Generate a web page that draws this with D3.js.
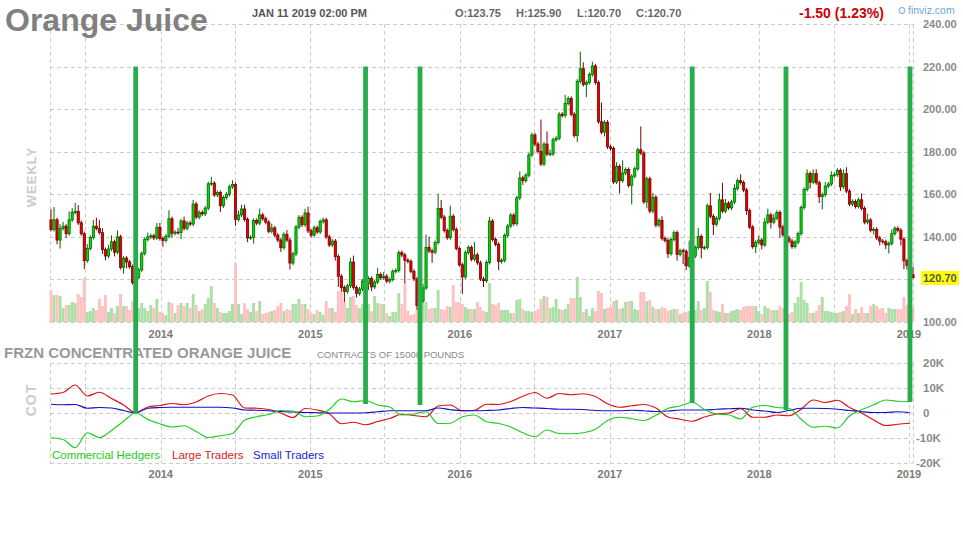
<!DOCTYPE html>
<html>
<head>
<meta charset="utf-8">
<script src="https://cdn.jsdelivr.net/npm/d3@7"></script>
<style>
body { margin: 0; background: #fff; }
svg { display: block; font-family: "Liberation Sans", Arial, sans-serif; }
</style>
</head>
<body>
<div id="chart"></div>
<script>
// weekly closes, Mar 2013 .. Jan 11 2019 (open = previous close)
var firstOpen = 148;
var closes = [
 143.5,148,138.5,144,145,141.5,148,151.5,152,146.6,
 141.5,128.8,134.6,139.7,145,144,142,134,131,134.3,
 137.7,132.8,140,125.7,130,128.2,126,118.5,121,124.5,
 132.2,138.8,140,140.5,139.5,144.5,139.2,138.3,140.3,148.5,
 141.7,142.2,142,147.5,144,146.5,146,155.4,149.3,151.5,
 150.8,153.5,164.9,165.2,159.7,160.8,154.6,158.5,
 160,163.5,164.6,148.2,150.3,153.1,148.2,139.5,139.8,147.7,
 146.5,150.3,148.5,146.9,142.6,144.2,140.8,138.5,134.9,141.2,
 138.5,127.7,132,144.6,149.2,145.7,151.2,142.8,140.8,144.3,
 142.3,147.2,148,140,136.2,138,130.8,121.5,116.2,114.3,
 117,128.2,116.2,113.4,115.5,119.2,118,120.5,116.5,118.8,
 122.3,120.8,121.5,119.2,120,123.8,
 124.2,132.6,131.5,129,128.5,123.8,120.2,107.7,110,116,
 135.1,133.4,132.8,137.3,153.3,149.3,143,139.6,149.7,143.5,
 134.6,126.9,121.2,132.6,135,129.5,131.5,127.8,120.2,119.4,
 128,147.4,138.8,136.5,128.4,129,140.7,145.1,150.2,146.2,
 158.3,167.7,166.4,169,178.5,187.9,183.6,180.1,174.2,183.6,
 178.9,179,185.6,186.3,197.6,197,202.7,
 205,197.6,187.6,213.1,219,211.6,212.5,216.3,220.3,212.5,
 194.1,189.2,193.8,182.3,181.5,165.8,173.1,166.4,170,171.6,
 164.2,168.5,172,180.9,179.4,156.4,167.3,152.1,158.6,145.5,
 147.7,139.3,138.3,132.1,138.8,142,131.8,133.5,133.2,126.4,
 130.3,131,135,140.2,134.9,135,154.6,149.7,145.9,148.7,
 157.4,152.1,155.8,153.6,156.4,162.7,166.4,
 165.5,162,152.3,144.6,135.4,137.4,138.5,136.2,146.9,150.3,
 146.9,148.8,151.5,144.6,141,139.5,138,135.4,137.5,141.5,
 153.8,162.3,169.7,165.7,169.7,165.4,158.9,159.8,163.8,164.8,
 168.8,169.2,171.2,163.5,169.7,161.5,155.4,156.6,154.3,157.4,
 153.4,146.9,147.9,143.1,143.5,139.5,138,137.7,136.2,136.9,
 141.5,144,143.1,138.9,128.8,126.6,122.2,120.7
];
// wick length above / below the body
var hiW = [
 5,6,1,2,2,1,4,2,4,3, 1,1,2,1,3,4,4,2,1,2, 3,1,3,1,1,1,1,1,1,1, 1,1,2,1,1,2,2,1,1,4, 1,1,2,1,2,1,1,2,1,1, 1,1,1,3,1,1,1,1,
 1,1,2,1,2,2,2,1,1,1, 1,3,1,1,1,2,1,1,1,1, 2,1,1,1,1,1,2,3,1,1, 1,1,1,1,1,1,1,1,1,1, 1,2,3,1,1,1,1,1,1,1, 3,1,2,1,1,1,
 1,1,1,1,1,1,1,1,1,2, 6,5,1,1,7,4,1,1,5,1, 1,1,1,1,1,1,6,1,1,1, 1,2,1,1,1,1,1,1,1,1, 1,3,1,1,1,1,1,1,15,1, 6,2,1,1,1,1,4,
 1,1,1,1,8,3,1,1,2,1, 1,9,1,1,1,1,2,1,6,1, 1,1,1,1,11,1,1,1,2,1, 1,2,1,1,1,1,1,1,1,1, 8,1,1,4,1,1,1,6,1,1, 3,8,2,1,1,2,1,
 3,1,1,1,1,1,2,1,2,3, 1,2,1,1,1,1,1,1,1,1, 1,1,2,1,2,2,1,1,2,1, 2,1,1,1,2,3,1,1,1,1, 3,1,3,1,1,1,1,1,1,1, 2,1,1,1,1,1,1,3.7
];
var loW = [
 1,1,2,4,1,2,1,1,1,1, 1,4,1,1,1,1,1,2,2,1, 1,2,1,1,3,3,1,1,5,1, 1,1,1,1,1,1,1,3,1,1, 2,1,1,3,1,1,1,1,1,1, 1,1,1,1,1,1,3,1,
 1,1,1,3,1,1,1,2,1,3, 1,1,1,1,1,1,1,1,2,1, 1,3,1,1,1,1,1,1,1,1, 1,1,1,1,1,1,2,5,2,5, 1,1,1,2,1,1,2,3,2,1, 1,1,1,1,1,1,
 1,1,1,11,1,1,1,2,3,1, 1,1,5,1,1,1,1,1,1,1, 1,1,8,1,1,1,1,1,1,3, 1,1,1,1,4,1,1,1,1,1, 1,1,2,1,1,1,1,1,1,1, 1,1,1,1,1,1,1,
 1,1,1,3,1,1,6,1,1,1, 1,1,2,1,1,1,1,6,1,1, 1,9,1,1,1,1,3,1,1,1, 1,1,1,2,1,1,3,1,6,2, 1,1,1,1,5,1,1,1,5,1, 1,1,1,1,1,1,1,
 1,1,2,1,1,3,1,2,1,1, 3,1,1,5,1,1,1,1,1,1, 1,1,1,3,1,1,3,6,1,1, 1,1,1,2,1,1,1,1,1,1, 1,1,1,1,2,1,2,1,2,4, 1,1,1,3,4,2,1,0
];
var volumes = [
 32,27,27,26,14,17,17,20,19,28, 25,44,10,11,14,12,23,16,27,10, 14,9,16,28,16,16,12,21,16,14, 19,14,11,17,14,23,10,9,7,20, 19,9,17,19,16,19,14,28,17,11, 13,18,24,36,19,14,10,9,
 9,11,18,59,18,8,19,13,10,19, 11,21,8,9,10,11,12,16,19,11, 13,12,18,18,23,18,18,13,9,8, 12,10,7,21,14,14,10,31,30,20, 14,25,26,17,14,18,15,18,11,26, 19,18,18,9,6,10,
 10,29,18,38,11,7,8,13,15,34, 20,13,14,14,32,13,12,16,15,37, 20,20,18,15,13,13,13,20,15,11, 10,39,18,17,19,12,12,12,9,9, 22,23,13,11,11,10,11,13,23,26, 25,14,15,23,13,12,13,
 18,24,24,45,25,10,13,6,14,11, 31,29,13,14,15,21,22,13,14,20, 21,21,13,12,30,30,21,22,15,13, 13,15,14,11,12,13,13,8,9,10, 11,12,12,21,12,14,41,30,12,11, 10,18,9,9,11,12,13,
 12,15,16,16,16,16,11,8,16,14, 12,12,12,16,14,10,8,10,19,25, 40,22,19,9,9,11,17,25,11,11, 10,9,9,10,11,16,28,8,13,9, 15,9,9,16,18,16,13,14,9,14, 13,13,13,13,25,17,16,14
];

// COT net positions (thousands of contracts), one value every 4 weeks
var cotStep = 4;
var cotCommercial = [-9.9,-10.6,-13.9,-7.9,-9.8,-7.0,-3.3,0.0,-2.6,-4.3, -5.6,-5.1,-7.4,-9.8,-9.1,-8.2,-2.9,-1.5,-0.6,1.0,
 0.8,-1.5,-1.2,1.4,5.6,4.5,5.0,3.2,2.4,-0.8, -0.4,0.5,-4.2,-4.1,-1.5,-0.8,-3.5,-4.2,-5.6,-7.9,
 -9.5,-6.8,-8.2,-8.3,-7.9,-6.5,-3.0,-1.7,-2.3,-3.0, -0.9,1.9,2.8,4.3,1.5,-0.4,-0.7,-2.4,2.3,3.0,
 2.2,1.9,-2.5,-5.7,-5.3,-6.0,-1.2,1.3,3.3,5.2, 4.7,4.5];
var cotLarge = [7.6,8.2,11.2,6.8,8.3,5.8,3.2,0.2,2.4,3.0, 3.8,3.3,4.4,6.8,7.8,7.2,2.0,1.9,1.4,0.0,
 -1.8,1.8,1.2,-0.3,-4.3,-3.7,-4.7,-3.4,-2.2,-0.5, -1.0,-1.5,2.8,3.2,0.9,1.1,3.5,3.4,4.6,6.7,
 8.2,5.9,7.8,7.3,7.7,6.6,3.7,2.3,2.9,3.4, 2.0,-1.6,-2.5,-3.3,-1.6,-0.4,0.0,1.7,-1.7,-1.7,
 -0.8,-1.1,1.5,5.2,4.2,5.1,2.2,0.0,-2.8,-5.0, -4.5,-4.1];
var cotSmall = [3.5,3.3,3.4,1.9,2.2,2.0,1.0,0.0,1.9,2.2, 2.3,2.3,2.3,2.3,2.3,2.0,1.2,1.1,0.9,0.6,
 0.4,0.2,0.1,0.0,0.0,0.0,0.1,0.5,0.9,0.9, 0.9,0.9,2.0,1.3,0.9,0.9,1.0,1.2,1.8,2.2,
 2.0,1.8,1.5,1.5,1.4,1.0,0.9,0.9,1.1,0.9, 0.6,0.8,1.2,1.2,1.2,1.5,1.7,1.9,1.2,0.8,
 0.2,1.0,1.9,1.9,1.8,1.5,1.0,0.5,0.2,0.2, 0.5,0.1];

// signal bars: week index, top price, commercial value at the bottom
var signalIdx = [28, 104, 122, 212, 243, 284];
var signalCot = [0, 3.6, 3.2, 4.0, 1.2, 4.4];
var signalTop = 220;

var priceTicks = [100, 120, 140, 160, 180, 200, 220, 240];
var cotTicks = [-20, -10, 0, 10, 20];
var lastPrice = 120.70;

var W = 963, H = 542;
var left = 50, right = 913;

var svg = d3.select("#chart").append("svg")
	.attr("width", W)
	.attr("height", H);
svg.append("rect").attr("width", W).attr("height", H).attr("fill", "#fff");

// scales
var xi = d3.scaleLinear().domain([0, closes.length - 1]).range([51, 913]);
var xt = d3.scaleTime().domain([new Date(2013, 2, 22), new Date(2019, 0, 11)]).range([44, 913]);
var yp = d3.scaleLinear().domain([100, 240]).range([322, 24]);
var yv = d3.scaleLinear().domain([0, 60]).range([322, 262]);
var yc = d3.scaleLinear().domain([-20, 20]).range([463, 363]);

function px(v) { return Math.round(v) + 0.5; }

// grid
var grid = svg.append("g")
	.attr("stroke", "#cccccc")
	.attr("stroke-width", 1)
	.attr("stroke-dasharray", "4,3")
	.attr("fill", "none");

priceTicks.forEach(function (t) {
	grid.append("line").attr("x1", left).attr("x2", right)
		.attr("y1", px(yp(t))).attr("y2", px(yp(t)));
});
cotTicks.forEach(function (t) {
	grid.append("line").attr("x1", left).attr("x2", right)
		.attr("y1", px(yc(t))).attr("y2", px(yc(t)));
});
var halfYears = xt.ticks(d3.timeMonth.every(6));
var vx = [left].concat(halfYears.map(function (d) { return xt(d); })).concat([right]);
vx.forEach(function (x) {
	grid.append("line").attr("x1", px(x)).attr("x2", px(x)).attr("y1", yp(240)).attr("y2", yp(100));
	grid.append("line").attr("x1", px(x)).attr("x2", px(x)).attr("y1", yc(20)).attr("y2", yc(-20));
});

// candles data
var bars = closes.map(function (c, i) {
	var o = i === 0 ? firstOpen : closes[i - 1];
	return {
		i: i, o: o, c: c,
		h: Math.max(o, c) + hiW[i],
		l: Math.min(o, c) - loW[i],
		v: volumes[i],
		up: c >= o
	};
});

// volume
svg.append("g").selectAll("rect")
	.data(bars)
	.enter().append("rect")
	.attr("x", function (d) { return xi(d.i) - 1.45; })
	.attr("width", 2.9)
	.attr("y", function (d) { return yv(d.v); })
	.attr("height", function (d) { return yv(0) - yv(d.v); })
	.attr("fill", function (d) { return d.up ? "#acdfa6" : "#ffc1c1"; });

// candles
var cg = svg.append("g");
cg.selectAll("line")
	.data(bars)
	.enter().append("line")
	.attr("x1", function (d) { return xi(d.i); })
	.attr("x2", function (d) { return xi(d.i); })
	.attr("y1", function (d) { return yp(d.h); })
	.attr("y2", function (d) { return yp(d.l); })
	.attr("stroke", function (d) { return d.up ? "#006a00" : "#7a0000"; })
	.attr("stroke-width", 1);
cg.selectAll("rect")
	.data(bars)
	.enter().append("rect")
	.attr("x", function (d) { return xi(d.i) - 1.1; })
	.attr("width", 2.2)
	.attr("y", function (d) { return yp(Math.max(d.o, d.c)); })
	.attr("height", function (d) { return Math.max(0.8, Math.abs(yp(d.o) - yp(d.c))); })
	.attr("fill", function (d) { return d.up ? "#00e000" : "#e80000"; })
	.attr("stroke", function (d) { return d.up ? "#006a00" : "#7a0000"; })
	.attr("stroke-width", 0.8);

// COT lines
var cotLine = d3.line()
	.x(function (d, k) { return xi(k * cotStep); })
	.y(function (d) { return yc(d); })
	.curve(d3.curveMonotoneX);

[[cotLarge, "#dd1111"], [cotSmall, "#1111cc"], [cotCommercial, "#22cc22"]].forEach(function (s) {
	svg.append("path")
		.attr("d", cotLine(s[0]))
		.attr("fill", "none")
		.attr("stroke", s[1])
		.attr("stroke-width", 1.2);
});

// texts
var gray = "#8a8a8a";
svg.append("text").attr("x", 5).attr("y", 31)
	.attr("font-size", 32).attr("font-weight", "bold").attr("fill", "#808080")
	.text("Orange Juice");

svg.append("text").attr("x", 252).attr("y", 17)
	.attr("font-size", 11).attr("font-weight", "bold").attr("fill", "#555")
	.text("JAN 11 2019 02:00 PM");

var ohlc = [["O:123.75", 455], ["H:125.90", 516], ["L:120.70", 577], ["C:120.70", 636]];
ohlc.forEach(function (t) {
	svg.append("text").attr("x", t[1]).attr("y", 17)
		.attr("font-size", 11).attr("font-weight", "bold").attr("fill", "#666")
		.text(t[0]);
});

svg.append("text").attr("x", 799).attr("y", 18)
	.attr("font-size", 14).attr("font-weight", "bold").attr("fill", "#cc0000")
	.text("-1.50 (1.23%)");

svg.append("circle").attr("cx", 902).attr("cy", 10.5).attr("r", 3)
	.attr("fill", "none").attr("stroke", "#6ea6d8").attr("stroke-width", 1);
svg.append("text").attr("x", 908).attr("y", 14)
	.attr("font-size", 10.5).attr("fill", "#6ea6d8")
	.text("finviz.com");

// price labels
svg.append("g").selectAll("text")
	.data(priceTicks)
	.enter().append("text")
	.attr("x", 923)
	.attr("y", function (d) { return yp(d); })
	.attr("dy", "0.36em")
	.attr("font-size", 11).attr("font-weight", "bold").attr("fill", gray)
	.text(function (d) { return d3.format(".2f")(d); });

svg.append("rect").attr("x", 921).attr("y", yp(lastPrice) - 7).attr("width", 38).attr("height", 14)
	.attr("fill", "#ffff00");
svg.append("text").attr("x", 923).attr("y", yp(lastPrice)).attr("dy", "0.36em")
	.attr("font-size", 11).attr("font-weight", "bold").attr("fill", "#555")
	.text(d3.format(".2f")(lastPrice));

// COT labels
svg.append("g").selectAll("text")
	.data(cotTicks)
	.enter().append("text")
	.attr("x", function (d) { return d < 0 ? 916 : 923; })
	.attr("y", function (d) { return yc(d); })
	.attr("dy", "0.36em")
	.attr("font-size", 11.5).attr("font-weight", "bold").attr("fill", gray)
	.text(function (d) { return d === 0 ? "0" : d + "K"; });

// year labels
var years = xt.ticks(d3.timeYear.every(1));
[338, 478].forEach(function (yy) {
	svg.append("g").selectAll("text")
		.data(years)
		.enter().append("text")
		.attr("x", function (d) { return xt(d); })
		.attr("y", yy)
		.attr("text-anchor", "middle")
		.attr("font-size", 11).attr("font-weight", "bold").attr("fill", "#7a7a7a")
		.text(d3.timeFormat("%Y"));
});

svg.append("text").attr("x", 4).attr("y", 358)
	.attr("font-size", 15).attr("font-weight", "bold").attr("fill", "#999")
	.text("FRZN CONCENTRATED ORANGE JUICE");
svg.append("text").attr("x", 317).attr("y", 358)
	.attr("font-size", 9.5).attr("fill", "#888")
	.text("CONTRACTS OF 15000 POUNDS");

svg.append("text").attr("transform", "translate(36,177) rotate(-90)")
	.attr("text-anchor", "middle")
	.attr("font-size", 13).attr("font-weight", "bold").attr("fill", "#cccccc")
	.attr("letter-spacing", 1)
	.text("WEEKLY");
svg.append("text").attr("transform", "translate(36,400) rotate(-90)")
	.attr("text-anchor", "middle")
	.attr("font-size", 14).attr("font-weight", "bold").attr("fill", "#cccccc")
	.attr("letter-spacing", 1)
	.text("COT");

// legend
var legend = [["Commercial Hedgers", "#22cc22", 52], ["Large Traders", "#dd2222", 172], ["Small Traders", "#2222dd", 253]];
legend.forEach(function (l) {
	svg.append("text").attr("x", l[2]).attr("y", 459)
		.attr("font-size", 11.5).attr("fill", l[1])
		.text(l[0]);
});

// signal bars on top
svg.append("g").selectAll("rect")
	.data(signalIdx)
	.enter().append("rect")
	.attr("x", function (d) { return xi(d) - 2.4; })
	.attr("width", 4.8)
	.attr("y", yp(signalTop))
	.attr("height", function (d, k) { return yc(signalCot[k]) - yp(signalTop); })
	.attr("fill", "#27ae4c");
</script>
</body>
</html>
